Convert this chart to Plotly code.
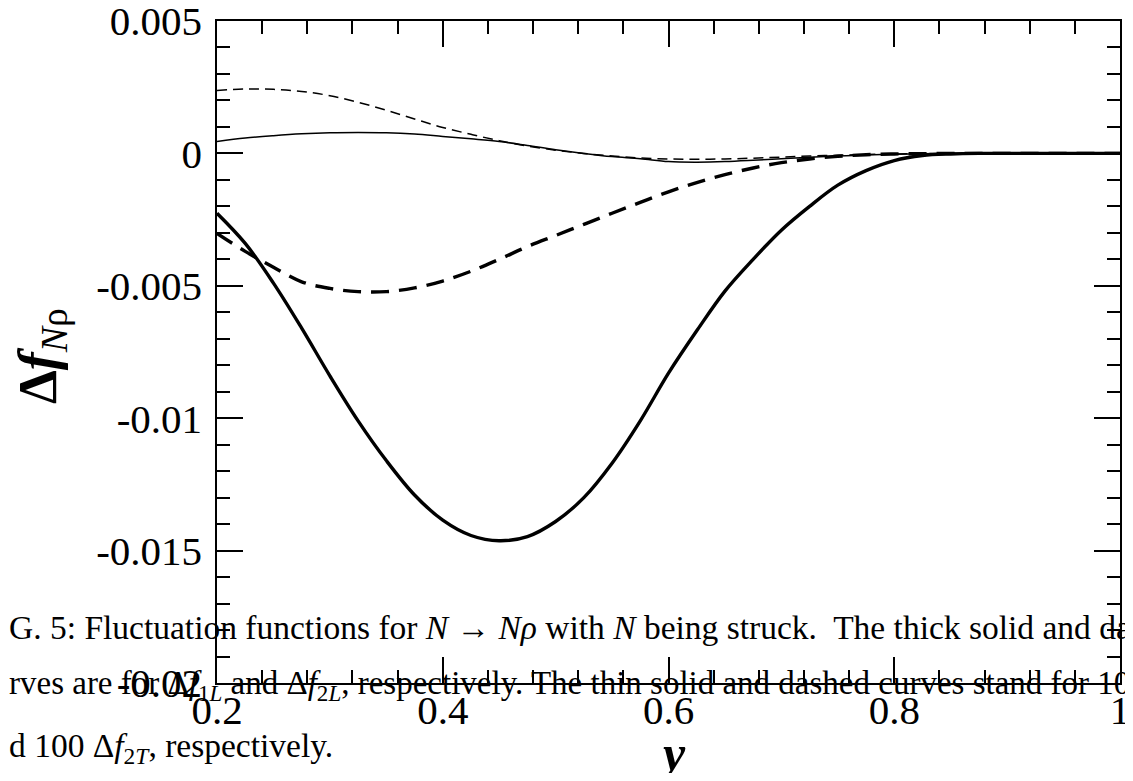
import plotly.graph_objects as go

# the page body keeps its default 8px margin, so the figure starts at (8, 8);
# the plot box is placed at screen 217..1120 x 21..683 to match the reference
PAGE_PAD = 8
W, H = 1133 - PAGE_PAD, 781 - 2 * PAGE_PAD
PX_L, PX_R, PX_T, PX_B = 217, 1120, 21, 683

# y (momentum fraction) grid
y_vals = [0.2, 0.225, 0.25, 0.275, 0.3, 0.325, 0.35, 0.375, 0.4, 0.425, 0.45,
          0.475, 0.5, 0.525, 0.55, 0.575, 0.6, 0.625, 0.65, 0.675, 0.7, 0.725,
          0.75, 0.775, 0.8, 0.825, 0.85, 0.875, 0.9, 0.925, 0.95, 0.975, 1.0]

# thick solid: delta f_1L
f1L = [-0.00226, -0.0034, -0.0049, -0.0066, -0.0084, -0.0101, -0.0116, -0.0129,
       -0.01385, -0.01443, -0.01463, -0.01447, -0.0139, -0.0130, -0.0117, -0.0101,
       -0.0083, -0.0067, -0.0052, -0.0040, -0.0029, -0.0020, -0.0012, -0.00065,
       -0.00027, -0.00008, -0.00002, 0.0, 0.0, 0.0, 0.0, 0.0, 0.0]

# thick dashed: delta f_2L
f2L = [-0.00302, -0.0037, -0.0043, -0.00485, -0.0051, -0.00522, -0.00522, -0.00508,
       -0.00482, -0.00445, -0.0040, -0.00352, -0.0031, -0.00268, -0.00226, -0.00185,
       -0.00145, -0.0011, -0.0008, -0.00055, -0.00035, -0.00021, -0.00011, -0.00005,
       -0.00002, -0.00001, 0.0, 0.0, 0.0, 0.0, 0.0, 0.0, 0.0]

# thin solid: 10 * delta f_1T
f1T_x10 = [0.00045, 0.00058, 0.00067, 0.00074, 0.00078, 0.00079, 0.00078, 0.00073,
           0.00064, 0.00055, 0.00045, 0.0003, 0.00014, 0.0, -0.00012, -0.0002,
           -0.00031, -0.00033, -0.00031, -0.00026, -0.0002, -0.00015, -0.0001, -0.00006,
           -0.00003, -0.00001, 0.0, 0.0, 0.0, 0.0, 0.0, 0.0, 0.0]

# thin dashed: 100 * delta f_2T
f2T_x100 = [0.00238, 0.00243, 0.00242, 0.00234, 0.00218, 0.00193, 0.00163, 0.0013,
            0.00098, 0.00072, 0.00048, 0.00028, 0.00012, 0.0, -0.0001, -0.00017,
            -0.00021, -0.00022, -0.00021, -0.00018, -0.00014, -0.0001, -0.00007, -0.00004,
            -0.00002, -0.00001, 0.0, 0.0, 0.0, 0.0, 0.0, 0.0, 0.0]

x_ticks = [0.2, 0.4, 0.6, 0.8, 1.0]
x_ticktext = ["0.2", "0.4", "0.6", "0.8", "1"]
y_ticks = [0.005, 0.0, -0.005, -0.01, -0.015, -0.02]
y_ticktext = ["0.005", "0", "-0.005", "-0.01", "-0.015", "-0.02"]

caption_lines = [
    "G. 5: Fluctuation functions for <i>N</i> → <i>Nρ</i> with <i>N</i> being struck.  "
    "The thick solid and dashed",
    "rves are for Δ<i>f</i><sub>1<i>L</i></sub> and Δ<i>f</i><sub>2<i>L</i></sub>, respectively. "
    "The thin solid and dashed curves stand for 10 Δ<i>f</i><sub>1<i>T</i></sub>",
    "d 100 Δ<i>f</i><sub>2<i>T</i></sub>, respectively.",
]
caption_mid_px = [627, 686, 748]
caption_sizes = [33.5, 33, 33.5]

SERIF = "Liberation Serif, Times New Roman, serif"

fig = go.Figure()
fig.add_trace(go.Scatter(x=y_vals, y=f1L, mode="lines", line_shape="spline",
                         line=dict(color="black", width=3.4)))
fig.add_trace(go.Scatter(x=y_vals, y=f2L, mode="lines", line_shape="spline",
                         line=dict(color="black", width=3.4, dash="18px,10px")))
fig.add_trace(go.Scatter(x=y_vals, y=f1T_x10, mode="lines", line_shape="spline",
                         line=dict(color="black", width=1.5)))
fig.add_trace(go.Scatter(x=y_vals, y=f2T_x100, mode="lines", line_shape="spline",
                         line=dict(color="black", width=1.5, dash="10px,6px")))

axis_common = dict(
    showline=True, linecolor="black", linewidth=1.5, mirror="allticks",
    ticks="inside", ticklen=26, tickwidth=1.5, tickcolor="black",
    showgrid=False, zeroline=False, automargin=False, ticklabeloverflow="allow",
    tickfont=dict(family=SERIF, size=41, color="black"),
)
fig.update_xaxes(range=[0.2, 1.0000001], tickvals=x_ticks, ticktext=x_ticktext,
                 minor=dict(dtick=0.04, ticks="inside", ticklen=13, tickwidth=1.5,
                            tickcolor="black", showgrid=False),
                 ticklabelstandoff=-10, **axis_common)
fig.update_yaxes(range=[-0.0200001, 0.0050001], tickvals=y_ticks, ticktext=y_ticktext,
                 minor=dict(dtick=0.001, ticks="inside", ticklen=13, tickwidth=1.5,
                            tickcolor="black", showgrid=False),
                 ticklabelstandoff=5, **axis_common)


def px_x(p):
    return (p - PX_L) / (PX_R - PX_L)


def px_y(p):
    return 1 - (p - PX_T) / (PX_B - PX_T)


# axis titles
fig.add_annotation(text="<b><i>y</i></b>", xref="paper", yref="paper",
                   x=px_x(672), y=px_y(753), xanchor="center", yanchor="middle",
                   showarrow=False, font=dict(family=SERIF, size=50, color="black"))
fig.add_annotation(text="<b>Δ<i>f</i></b><sub><i>N</i>ρ</sub>", xref="paper", yref="paper",
                   x=px_x(42), y=px_y(356), xanchor="center", yanchor="middle",
                   textangle=-90, showarrow=False,
                   font=dict(family=SERIF, size=54, color="black"))

# caption text bleeding over the figure
for line, mid, size in zip(caption_lines, caption_mid_px, caption_sizes):
    fig.add_annotation(text=line, xref="paper", yref="paper",
                       x=px_x(PAGE_PAD - 1), y=px_y(mid),
                       xanchor="left", yanchor="middle", showarrow=False, align="left",
                       font=dict(family=SERIF, size=size, color="black"))

fig.update_layout(
    width=W, height=H,
    margin=dict(l=PX_L - PAGE_PAD, r=(PAGE_PAD + W) - PX_R,
                t=PX_T - PAGE_PAD, b=(PAGE_PAD + H) - PX_B),
    plot_bgcolor="white", paper_bgcolor="white",
    showlegend=False,
)

fig.write_html("out.html")
